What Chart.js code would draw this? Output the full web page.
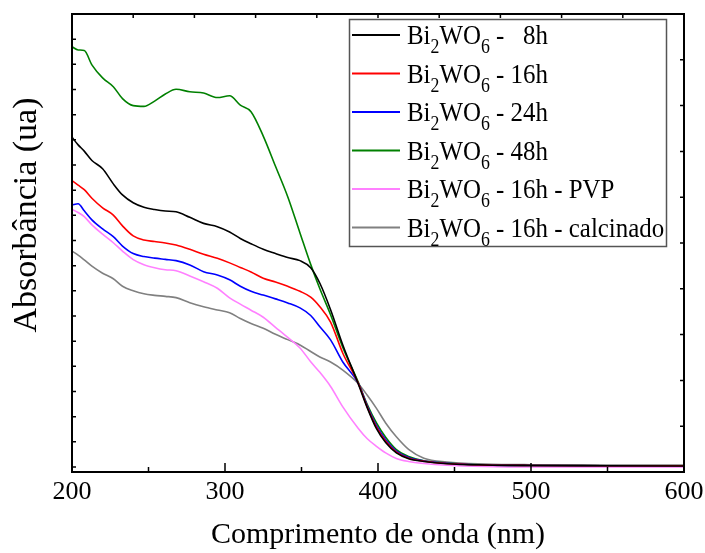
<!DOCTYPE html>
<html>
<head>
<meta charset="utf-8">
<script src="https://cdn.jsdelivr.net/npm/chart.js@4.4.1/dist/chart.umd.min.js"></script>
<style>
  html, body { margin: 0; padding: 0; background: #fff; }
  canvas { display: block; }
</style>
</head>
<body>
<canvas id="chart" width="705" height="553"></canvas>
<script>
// Wavelength grid (nm)
const wavelengths = [200, 204, 208, 213, 220, 227, 233, 240, 247, 254, 261, 268, 277, 286, 295, 303, 310, 317, 325, 333, 341, 349, 356, 362, 369, 377, 387, 393, 399, 405, 412, 420, 430, 445, 470, 500, 550, 600];

// Absorbance (arbitrary units) for each sample
const abs8h = [13.30, 13.00, 12.75, 12.38, 12.05, 11.45, 11.01, 10.70, 10.52, 10.43, 10.37, 10.34, 10.12, 9.88, 9.75, 9.54, 9.28, 9.07, 8.85, 8.68, 8.52, 8.40, 8.12, 7.50, 6.45, 5.05, 3.52, 2.55, 1.72, 1.17, 0.76, 0.53, 0.42, 0.33, 0.28, 0.26, 0.25, 0.24];
const abs16h = [11.58, 11.40, 11.22, 10.88, 10.50, 10.21, 9.78, 9.38, 9.22, 9.16, 9.10, 9.02, 8.85, 8.65, 8.49, 8.31, 8.13, 7.95, 7.70, 7.55, 7.38, 7.18, 6.95, 6.57, 5.96, 4.72, 3.54, 2.58, 1.78, 1.22, 0.79, 0.55, 0.43, 0.34, 0.28, 0.26, 0.25, 0.25];
const abs24h = [10.61, 10.66, 10.38, 10.02, 9.66, 9.35, 8.98, 8.68, 8.56, 8.50, 8.45, 8.40, 8.23, 7.96, 7.83, 7.64, 7.38, 7.18, 7.03, 6.88, 6.72, 6.52, 6.22, 5.77, 5.25, 4.37, 3.54, 2.62, 1.84, 1.28, 0.83, 0.58, 0.44, 0.35, 0.28, 0.26, 0.25, 0.25];
const abs48h = [16.90, 16.77, 16.75, 16.18, 15.66, 15.31, 14.84, 14.56, 14.53, 14.74, 15.02, 15.21, 15.11, 15.06, 14.88, 14.95, 14.58, 14.32, 13.35, 12.15, 10.94, 9.50, 8.25, 7.28, 6.25, 4.95, 3.58, 2.68, 1.95, 1.38, 0.89, 0.62, 0.45, 0.36, 0.28, 0.26, 0.25, 0.25];
const abs16hPVP = [10.44, 10.31, 10.15, 9.82, 9.45, 9.11, 8.78, 8.44, 8.24, 8.12, 8.04, 8.00, 7.79, 7.56, 7.30, 6.92, 6.67, 6.43, 6.15, 5.75, 5.35, 4.93, 4.38, 3.96, 3.40, 2.59, 1.74, 1.32, 1.02, 0.76, 0.54, 0.42, 0.34, 0.27, 0.22, 0.20, 0.20, 0.20];
const abs16hCalc = [8.78, 8.62, 8.43, 8.18, 7.90, 7.68, 7.38, 7.20, 7.08, 7.02, 6.98, 6.93, 6.73, 6.57, 6.44, 6.33, 6.10, 5.90, 5.71, 5.47, 5.26, 5.05, 4.79, 4.57, 4.37, 4.05, 3.52, 3.05, 2.53, 1.95, 1.40, 0.90, 0.55, 0.40, 0.32, 0.29, 0.28, 0.28];

const seriesValues = [abs8h, abs16h, abs24h, abs48h, abs16hPVP, abs16hCalc];
const seriesSuffixes = [' -   8h', ' - 16h', ' - 24h', ' - 48h', ' - 16h - PVP', ' - 16h - calcinado'];
const seriesColors = ['#000000', '#ff0000', '#0000ff', '#008000', '#ff80ff', '#808080'];
const xTicks = [200, 300, 400, 500, 600];

const SERIF = '"Liberation Serif", "Times New Roman", serif';

// Frame with inward ticks on all four sides, y title, and the boxed legend
const frameAndLegend = {
    id: 'frameAndLegend',
    afterDatasetsDraw(chart) {
        const { ctx, chartArea: a, scales: { x, y } } = chart;
        ctx.save();
        ctx.strokeStyle = '#000';
        ctx.lineWidth = 2;
        ctx.strokeRect(a.left, a.top, a.right - a.left, a.bottom - a.top);

        ctx.lineWidth = 1.5;
        ctx.beginPath();
        for (let v = x.min + 50; v < x.max; v += 50) {
            const px = x.getPixelForValue(v);
            const len = xTicks.includes(v) ? 9 : 5;
            ctx.moveTo(px, a.bottom); ctx.lineTo(px, a.bottom - len);
        }
        for (let k = 1; k < 10; k++) {
            const px = a.left + k * (a.right - a.left) / 10;
            ctx.moveTo(px, a.top); ctx.lineTo(px, a.top + 4);
        }
        for (let v = y.max - 1; v > y.min; v -= 1) {
            const py = y.getPixelForValue(v);
            ctx.moveTo(a.left, py); ctx.lineTo(a.left + 4, py);
        }
        for (let k = 1; k < 10; k++) {
            const py = a.top + k * (a.bottom - a.top) / 10;
            ctx.moveTo(a.right, py); ctx.lineTo(a.right - 4, py);
        }
        ctx.stroke();

        // y axis title, sits a bit above the middle like the original
        ctx.save();
        ctx.translate(27, 215);
        ctx.rotate(-Math.PI / 2);
        ctx.fillStyle = '#000';
        ctx.font = '34px ' + SERIF;
        ctx.textAlign = 'center';
        ctx.textBaseline = 'middle';
        ctx.fillText('Absorbância (ua)', 0, 0);
        ctx.restore();

        // legend box
        const bx = 349, by = 19, bw = 317, bh = 227;
        ctx.fillStyle = '#fff';
        ctx.fillRect(bx, by, bw, bh);
        ctx.strokeStyle = '#555';
        ctx.lineWidth = 1.5;
        ctx.strokeRect(bx + 0.5, by + 0.5, bw, bh);

        chart.data.datasets.forEach((ds, i) => {
            const ly = 35 + 38.5 * i;
            ctx.strokeStyle = ds.borderColor;
            ctx.lineWidth = 2;
            ctx.beginPath();
            ctx.moveTo(352, ly); ctx.lineTo(400, ly);
            ctx.stroke();

            ctx.save();
            ctx.translate(407, ly + 9);
            ctx.scale(0.89, 1);
            ctx.fillStyle = '#000';
            ctx.textBaseline = 'alphabetic';
            const parts = [['Bi', 28, 0], ['2', 20, 9], ['WO', 28, 0], ['6', 20, 9], [seriesSuffixes[i], 28, 0]];
            let cx = 0;
            parts.forEach(([txt, size, dy]) => {
                ctx.font = size + 'px ' + SERIF;
                ctx.fillText(txt, cx, dy);
                cx += ctx.measureText(txt).width;
            });
            ctx.restore();
        });
        ctx.restore();
    }
};

const datasets = seriesValues.map((vals, i) => ({
    label: 'Bi₂WO₆' + seriesSuffixes[i],
    data: wavelengths.map((w, j) => ({ x: w, y: vals[j] })),
    borderColor: seriesColors[i],
    borderWidth: 1.6,
    pointRadius: 0,
    fill: false,
    cubicInterpolationMode: 'monotone'
}));

new Chart(document.getElementById('chart'), {
    type: 'line',
    data: { datasets },
    options: {
        responsive: false,
        animation: false,
        layout: { padding: { top: 14, right: 21, left: 0, bottom: 0 } },
        plugins: {
            legend: { display: false },
            tooltip: { enabled: false }
        },
        scales: {
            x: {
                type: 'linear',
                min: 200,
                max: 600,
                afterBuildTicks: s => { s.ticks = xTicks.map(v => ({ value: v })); },
                afterFit: s => { s.height = 81; s.paddingLeft = 0; s.paddingRight = 0; },
                grid: { display: false },
                border: { display: false },
                ticks: {
                    color: '#000',
                    font: { family: SERIF, size: 26 },
                    padding: -3,
                    maxRotation: 0,
                    autoSkip: false
                },
                title: {
                    display: true,
                    text: 'Comprimento de onda (nm)',
                    color: '#000',
                    font: { family: SERIF, size: 30 },
                    padding: { top: 0, bottom: 0 }
                }
            },
            y: {
                min: 0,
                max: 18.2,
                afterFit: s => { s.width = 72; },
                grid: { display: false },
                border: { display: false },
                ticks: { display: false },
                title: { display: false }
            }
        }
    },
    plugins: [frameAndLegend]
});
</script>
</body>
</html>
